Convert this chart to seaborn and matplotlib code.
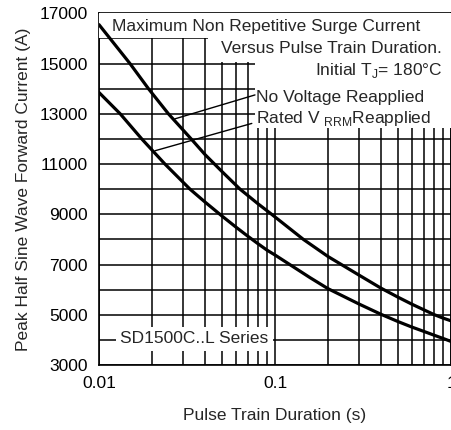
import matplotlib
matplotlib.use("Agg")
import matplotlib.pyplot as plt
from matplotlib.patches import Rectangle
import pandas as pd
import seaborn as sns

# values
no_volt_t = [0.01, 0.015, 0.0191, 0.0248, 0.0334, 0.04, 0.05, 0.0633, 0.08,
             0.0957, 0.145, 0.2, 0.3, 0.4, 0.5, 0.6, 0.7, 0.8, 0.9, 1.0]
no_volt_a = [16550, 15000, 14000, 13000, 12000, 11380, 10700, 10000, 9420,
             9000, 8000, 7320, 6580, 6060, 5700, 5420, 5200, 5010, 4870, 4760]
rated_t = [0.01, 0.0132, 0.0175, 0.0237, 0.0329, 0.04, 0.05, 0.06, 0.07, 0.08,
           0.09, 0.1, 0.158, 0.2, 0.3, 0.4, 0.5, 0.6, 0.7, 0.8, 0.9, 1.0]
rated_a = [13850, 13000, 12000, 11000, 10000, 9490, 8930, 8490, 8130, 7830,
           7575, 7380, 6480, 6040, 5430, 5020, 4730, 4510, 4340, 4190, 4060, 3940]

y_ticks = [3000, 5000, 7000, 9000, 11000, 13000, 15000, 17000]
y_grid = list(range(3000, 17001, 1000))
x_ticks = [0.01, 0.1, 1]
x_tick_labels = ["0.01", "0.1", "1"]

df = pd.concat([
    pd.DataFrame({"t": no_volt_t, "amp": no_volt_a, "curve": "No Voltage Reapplied"}),
    pd.DataFrame({"t": rated_t, "amp": rated_a, "curve": "Rated VRRM Reapplied"}),
])

sns.set_style("white")
plt.rcParams["font.family"] = ["Liberation Sans", "DejaVu Sans"]
plt.rcParams["mathtext.fontset"] = "custom"
plt.rcParams["mathtext.rm"] = "Liberation Sans"

fig = plt.figure(figsize=(4.52, 4.30), dpi=100)
ax = fig.add_axes([0.219, 0.151, 0.779, 0.818])

sns.lineplot(data=df, x="t", y="amp", units="curve", estimator=None,
             color="black", linewidth=2.3, ax=ax, zorder=5, legend=False)

ax.set_xscale("log")
ax.set_xlim(0.01, 1)
ax.set_ylim(3000, 17000)
ax.set_xticks(x_ticks)
ax.set_xticklabels(x_tick_labels)
ax.set_yticks(y_ticks)
ax.set_yticks(y_grid, minor=True)
ax.xaxis.set_minor_formatter(matplotlib.ticker.NullFormatter())
ax.tick_params(which="both", length=0, labelsize=12.5, colors="black", pad=8)
ax.grid(which="both", color="black", linewidth=1.1)
for s in ax.spines.values():
    s.set_color("black")
    s.set_linewidth(1.2)

ax.set_xlabel("Pulse Train Duration (s)", fontsize=12.5, labelpad=12)
ax.set_ylabel("Peak Half Sine Wave Forward Current (A)", fontsize=12.5, labelpad=6)

# white areas behind the header text
for (x0, y0, w, h) in [(0.0, 0.931, 1.0, 0.069), (0.31, 0.862, 0.69, 0.07),
                       (0.443, 0.674, 0.557, 0.19)]:
    ax.add_patch(Rectangle((x0, y0), w, h, transform=ax.transAxes,
                           facecolor="white", edgecolor="none", zorder=3))

fs = 12.5
ax.text(0.037, 0.951, "Maximum Non Repetitive Surge Current", transform=ax.transAxes,
        fontsize=fs, va="baseline", zorder=6)
ax.text(0.974, 0.886, "Versus Pulse Train Duration.", transform=ax.transAxes,
        fontsize=fs, va="baseline", ha="right", zorder=6)
ax.text(0.976, 0.825, r"Initial T$_\mathregular{J}$= 180°C", transform=ax.transAxes,
        fontsize=fs, va="baseline", ha="right", zorder=6)
ax.text(0.446, 0.749, "No Voltage Reapplied", transform=ax.transAxes,
        fontsize=fs, va="baseline", zorder=6)
ax.text(0.446, 0.689, r"Rated V $_\mathregular{RRM}$Reapplied", transform=ax.transAxes,
        fontsize=fs, va="baseline", zorder=6)
ax.text(0.06, 0.0617, "SD1500C..L Series", transform=ax.transAxes,
        fontsize=fs, va="baseline", zorder=6,
        bbox=dict(facecolor="white", edgecolor="none", pad=3))

# leader lines
ax.annotate("", xy=(0.0270, 12800), xycoords="data",
            xytext=(0.443, 0.768), textcoords="axes fraction",
            arrowprops=dict(arrowstyle="-", color="black", lw=1.0, shrinkA=0, shrinkB=0),
            zorder=6)
ax.annotate("", xy=(0.0208, 11530), xycoords="data",
            xytext=(0.434, 0.687), textcoords="axes fraction",
            arrowprops=dict(arrowstyle="-", color="black", lw=1.0, shrinkA=0, shrinkB=0),
            zorder=6)

fig.savefig("out.png", dpi=100)
